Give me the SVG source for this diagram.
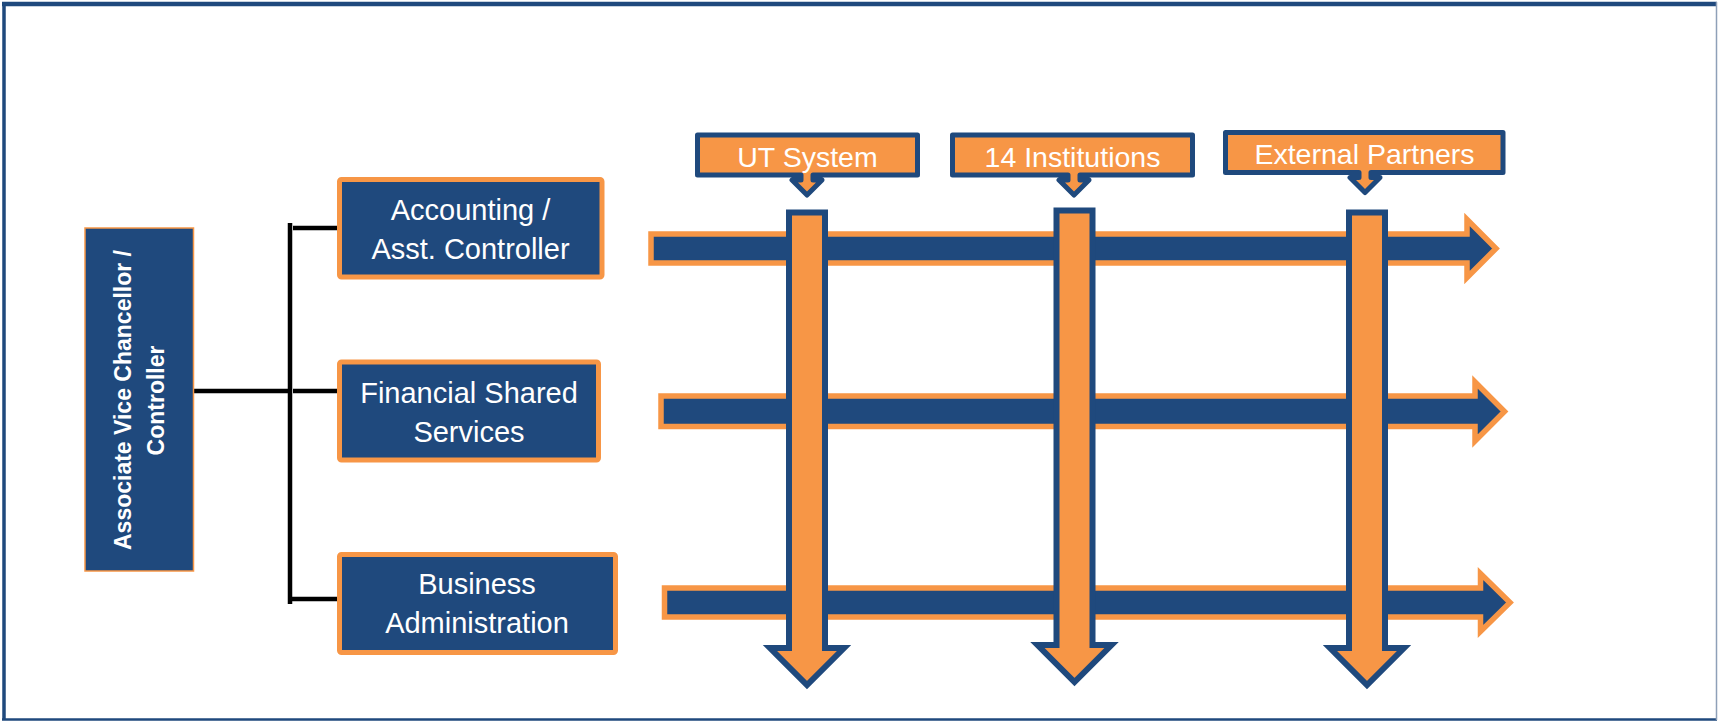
<svg xmlns="http://www.w3.org/2000/svg" width="1718" height="721" viewBox="0 0 1718 721">
<style>
.box{fill:#1F497D;stroke:#F79646;stroke-width:5;}
.lbl{font-family:"Liberation Sans",Arial,sans-serif;font-size:29px;fill:#FFFFFF;text-anchor:middle;}
.clbl{font-family:"Liberation Sans",Arial,sans-serif;font-size:28.5px;fill:#FFFFFF;text-anchor:middle;}
.vlbl{font-family:"Liberation Sans",Arial,sans-serif;font-size:23px;font-weight:bold;fill:#FFFFFF;text-anchor:middle;}
.conn{stroke:#000000;stroke-width:4.5;fill:none;}
.harrow{fill:#1F497D;stroke:#F79646;stroke-width:5.5;stroke-linejoin:miter;}
.varrow{fill:#F79646;stroke:#1F497D;stroke-width:6;stroke-linejoin:miter;}
.callout{fill:#F79646;stroke:#1F497D;stroke-width:5;stroke-linejoin:round;}
</style>
<rect x="0" y="0" width="1718" height="721" fill="#FFFFFF"/>
<g id="frame">
<line x1="2" y1="4" x2="1717" y2="4" stroke="#1F497D" stroke-width="4.5"/>
<line x1="4" y1="2" x2="4" y2="720" stroke="#1F497D" stroke-width="3.5"/>
<line x1="2" y1="719.5" x2="1717" y2="719.5" stroke="#1F497D" stroke-width="2.5"/>
<line x1="1716.5" y1="2" x2="1716.5" y2="720" stroke="#8EA0B8" stroke-width="1.5"/>
</g>
<g id="connectors">
<line class="conn" x1="194" y1="391" x2="290" y2="391"/>
<line class="conn" x1="290" y1="223" x2="290" y2="604"/>
<line class="conn" x1="293" y1="228" x2="337" y2="228"/>
<line class="conn" x1="293" y1="391" x2="338" y2="391"/>
<line class="conn" x1="290" y1="599" x2="337" y2="599"/>
</g>
<g id="node-avc">
<rect x="85" y="228" width="108.5" height="343" fill="#1F497D" stroke="#F79646" stroke-width="1.5"/>
<text class="vlbl" transform="translate(131,400) rotate(-90)">Associate Vice Chancellor /</text>
<text class="vlbl" transform="translate(164,400.5) rotate(-90)">Controller</text>
</g>
<g id="node-accounting">
<rect class="box" x="339.5" y="179.5" width="262.5" height="97.5" rx="2"/>
<text class="lbl" x="470.5" y="220">Accounting /</text>
<text class="lbl" x="470.5" y="258.5">Asst. Controller</text>
</g>
<g id="node-fss">
<rect class="box" x="339.5" y="362" width="259" height="98" rx="2"/>
<text class="lbl" x="469" y="402.5">Financial Shared</text>
<text class="lbl" x="469" y="442">Services</text>
</g>
<g id="node-business">
<rect class="box" x="339.5" y="554.5" width="276" height="98" rx="2"/>
<text class="lbl" x="477" y="594">Business</text>
<text class="lbl" x="477" y="633">Administration</text>
</g>
<g id="flow-arrows">
<path class="harrow" d="M651,234 H1467 V219.5 L1496,248.5 L1467,277.5 V263 H651 Z"/>
<path class="harrow" d="M661,396 H1475 V382 L1504.5,411.5 L1475,441 V426.5 H661 Z"/>
<path class="harrow" d="M664.5,588 H1480.5 V573.5 L1510,602.5 L1480.5,631.5 V617 H664.5 Z"/>
<path class="varrow" d="M789,212.5 H825 V648 H844 L807,685 L770,648 H789 Z"/>
<path class="varrow" d="M1056.5,210.5 H1092.5 V645 H1111.5 L1074.5,682 L1037.5,645 H1056.5 Z"/>
<path class="varrow" d="M1349,212.5 H1385 V648 H1404 L1367,685 L1330,648 H1349 Z"/>
</g>
<g id="node-ut-system">
<path class="callout" d="M697.5,135 H917.5 V175 H813 V180 H822 L807,195 L792,180 H801 V175 H697.5 Z"/>
<text class="clbl" x="807.5" y="166.5">UT System</text>
</g>
<g id="node-14-institutions">
<path class="callout" d="M952.5,135 H1192.5 V175 H1080 V180 H1089 L1074,195 L1059,180 H1068 V175 H952.5 Z"/>
<text class="clbl" x="1072.5" y="166.5">14 Institutions</text>
</g>
<g id="node-external-partners">
<path class="callout" d="M1225.5,132.5 H1503 V172.5 H1371 V177.5 H1380 L1365,192.5 L1350,177.5 H1359 V172.5 H1225.5 Z"/>
<text class="clbl" x="1364.5" y="163.5">External Partners</text>
</g>
</svg>
